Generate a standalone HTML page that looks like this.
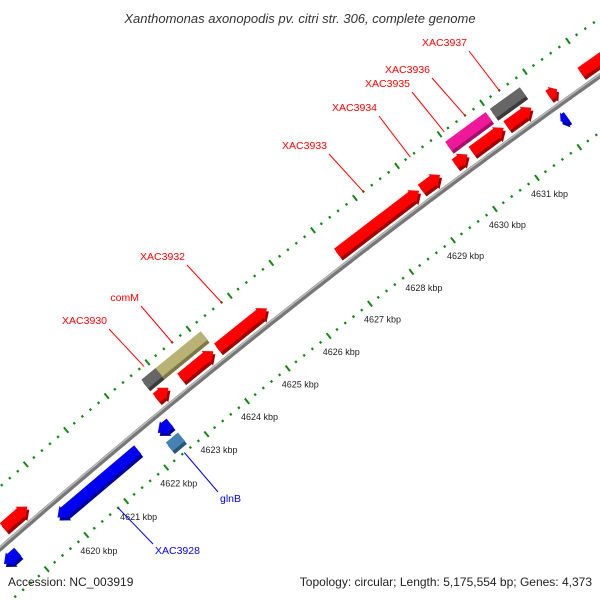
<!DOCTYPE html>
<html><head><meta charset="utf-8"><style>
html,body{margin:0;padding:0;background:#fff;}
svg{display:block;font-family:"Liberation Sans","DejaVu Sans",sans-serif;}
</style></head><body>
<svg id="map" width="600" height="600" viewBox="0 0 600 600">
<text x="300" y="23" text-anchor="middle" font-size="13" font-style="italic" fill="#333">Xanthomonas axonopodis pv. citri str. 306, complete genome</text>
<g id="ticks"></g>
<g id="backbone"></g>
<g id="features"></g>
<g id="labels"></g>
<text x="8" y="586" font-size="12" fill="#222">Accession: NC_003919</text>
<text x="592" y="586" text-anchor="end" font-size="12" fill="#222">Topology: circular; Length: 5,175,554 bp; Genes: 4,373</text>
</svg>
<script>
// data (kbp)
const tickKbp = [4618,4619,4620,4621,4622,4623,4624,4625,4626,4627,4628,4629,4630,4631,4632,4633,4634];
const tickLabelKbp = [4620,4621,4622,4623,4624,4625,4626,4627,4628,4629,4630,4631];
const featStart = [4618.9,4622.7,4623.3,4624.2,4627.1,4629.1,4629.9,4630.3,4631.12,4632.1,4632.85, 4622.7,4623.05,4630.0,4630.3,4631.05, 4618.45,4619.8,4622.3,4632.0, 4622.3];
const featEnd   = [4619.5,4623.0,4624.1,4625.4,4629.05,4629.55,4630.2,4631.05,4631.7,4632.3,4634.2, 4623.05,4624.15,4630.3,4630.95,4631.75, 4618.8,4621.8,4622.6,4632.15, 4622.6];
const featStrand= [1,1,1,1,1,1,1,1,1,1,1, 1,1,1,1,1, -1,-1,-1,-1, -1];
const featRow   = [1,1,1,1,1,1,1,1,1,1,1, 2,2,2,2,2, 1,1,1,1, 2];
const featColor = ['#f00','#f00','#f00','#f00','#f00','#f00','#f00','#f00','#f00','#f00','#f00','#666','#b8b274','#f0189a','#f0189a','#666','#0000f0','#0000f0','#0000f0','#0000f0','#4682b4'];
const featArrow = [1,1,1,1,1,1,1,1,1,1,1, 0,0,0,0,0, 1,1,1,1, 0];
const labelNames = ['XAC3937','XAC3936','XAC3935','XAC3934','XAC3933','XAC3932','comM','XAC3930','glnB','XAC3928'];
const labelKbp   = [4631.4,4630.6,4630.1,4629.3,4628.2,4624.8,4623.6,4622.9,4622.45,4620.8];
const labelStrand= [1,1,1,1,1,1,1,1,-1,-1];

const NS='http://www.w3.org/2000/svg';
const CX=4976, CY=6243, R=7562, RIN=7516, ROUT=7609;
function phi(kb){return (36.20+(4631-kb)*0.3986)*Math.PI/180;}
function P(kb,r){const a=phi(kb);return [CX-r*Math.sin(a), CY-r*Math.cos(a)];}
function mk(tag,attrs,parent){const e=document.createElementNS(NS,tag);for(const k in attrs)e.setAttribute(k,attrs[k]);parent.appendChild(e);return e;}
const gT=document.getElementById('ticks'),gB=document.getElementById('backbone'),gF=document.getElementById('features'),gL=document.getElementById('labels');

// ticks
for(let i=0;i<tickKbp.length-1;i++){
  for(let j=0;j<5;j++){
    const kb=tickKbp[i]+j*0.2, major=(j===0);
    [RIN,ROUT].forEach((rr)=>{
      const h=major?3.5:1.2;
      const a=P(kb,rr-h),b=P(kb,rr+h);
      const t=mk('line',{x1:a[0],y1:a[1],x2:b[0],y2:b[1],stroke:'#118811','stroke-width':major?2:2.2},gT);
      
      
    });
  }
}
for(let i=0;i<tickLabelKbp.length;i++){
  const kb=tickLabelKbp[i];
  const p=P(kb,RIN);
  const tx=mk('text',{x:p[0]-6,y:p[1]+19,'font-size':9,fill:'#222'},gT);
  tx.textContent=kb+' kbp';
  
  
}

// backbone
let d='';
for(let kb=4617.5;kb<=4634.5;kb+=0.1){const p=P(kb,R);d+=(d?'L':'M')+p[0].toFixed(1)+' '+p[1].toFixed(1);}
const bb1=mk('path',{d:d,fill:'none',stroke:'#777','stroke-width':5},gB);


const bb2=mk('path',{d:d,fill:'none',stroke:'#bbb','stroke-width':1.5,transform:'translate(-1,-1)'},gB);



function shade(c){
  const m={'#f00':'#a00000','#666':'#3a3a3a','#b8b274':'#7d7845','#f0189a':'#a80e68','#0000f0':'#00009a','#4682b4':'#2a5577'};
  return m[c]||'#333';
}
// features
for(let i=0;i<featStart.length;i++){
  const s=featStart[i],e=featEnd[i],st=featStrand[i],row=featRow[i];
  const rc=R+st*(row===1?14:32);
  const hw=5.5, hh=7.5;
  let pts=[];
  if(featArrow[i]){
    const hl=Math.min(0.17,(e-s)*0.6);
    if(st>0){
      const b=e-hl;
      pts=[[s,rc-hw],[b,rc-hw],[b,rc-hh],[e,rc],[b,rc+hh],[b,rc+hw],[s,rc+hw]];
    }else{
      const b=s+hl;
      pts=[[e,rc-hw],[b,rc-hw],[b,rc-hh],[s,rc],[b,rc+hh],[b,rc+hw],[e,rc+hw]];
    }
  }else{
    pts=[[s,rc-hw],[e,rc-hw],[e,rc+hw],[s,rc+hw]];
  }
  const xy=pts.map(q=>P(q[0],q[1]));
  const str=xy.map(q=>q[0].toFixed(1)+','+q[1].toFixed(1)).join(' ');
  const sh=mk('polygon',{points:str,fill:shade(featColor[i]),transform:'translate(2,3)'},gF);
  
  
  const pg=mk('polygon',{points:str,fill:featColor[i]},gF);
  
  
}

// labels (text positions are layout)
const labelPos=[[467,46],[430,73],[410,87],[377,111],[327,149],[185,260],[139,301],[107,324],[220,502],[155,554]];
for(let i=0;i<labelNames.length;i++){
  const st=labelStrand[i], col=st>0?'#f00':'#00f';
  const p=P(labelKbp[i], st>0?R+46:R-46);
  const lp=labelPos[i];
  const lx=st>0?lp[0]+2:lp[0]-2, ly=st>0?lp[1]+5:lp[1]-10;
  const ln=mk('line',{x1:lx,y1:ly,x2:p[0],y2:p[1],stroke:col,'stroke-width':1},gL);
  
  
  const t=mk('text',{x:lp[0],y:lp[1],'font-size':10.5,fill:col,'text-anchor':st>0?'end':'start'},gL);
  t.textContent=labelNames[i];
  
  
}
</script>
</body></html>
